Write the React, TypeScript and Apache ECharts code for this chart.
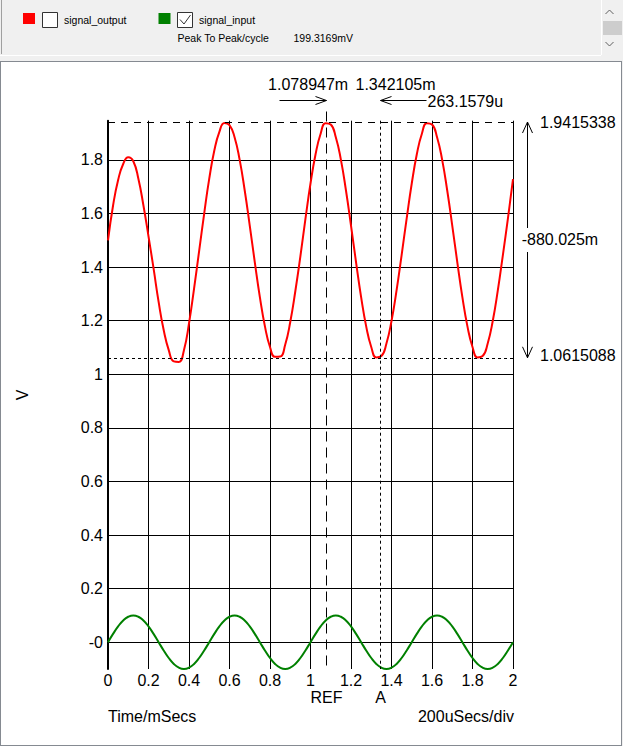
import React, { useEffect, useRef } from "react";
import * as echarts from "echarts";

// sample spacing of the two traces, in ms
const sampleStepMs = 0.025;

// signal_output (red), volts, one value every 0.025 ms from 0 to 2 ms
const outputVolts = [
  1.5, 1.63, 1.725, 1.785, 1.81, 1.795, 1.73, 1.63, 1.515, 1.395,
  1.27, 1.165, 1.09, 1.048, 1.046, 1.09, 1.19, 1.32, 1.46, 1.6,
  1.73, 1.835, 1.905, 1.938, 1.93, 1.885, 1.801, 1.687, 1.555, 1.418,
  1.288, 1.179, 1.102, 1.065, 1.066, 1.11, 1.195, 1.31, 1.44, 1.58,
  1.712, 1.821, 1.898, 1.937, 1.932, 1.885, 1.801, 1.687, 1.555, 1.418,
  1.288, 1.179, 1.102, 1.063, 1.068, 1.115, 1.199, 1.313, 1.445, 1.582,
  1.712, 1.821, 1.898, 1.937, 1.932, 1.885, 1.801, 1.687, 1.555, 1.418,
  1.288, 1.179, 1.102, 1.063, 1.068, 1.115, 1.199, 1.313, 1.445, 1.582,
  1.728,
];

// signal_input (green), volts
const inputVolts = [
  0, 0.031, 0.059, 0.081, 0.095, 0.1, 0.095, 0.081, 0.059, 0.031,
  0, -0.031, -0.059, -0.081, -0.095, -0.1, -0.095, -0.081, -0.059, -0.031,
  0, 0.031, 0.059, 0.081, 0.095, 0.1, 0.095, 0.081, 0.059, 0.031,
  0, -0.031, -0.059, -0.081, -0.095, -0.1, -0.095, -0.081, -0.059, -0.031,
  0, 0.031, 0.059, 0.081, 0.095, 0.1, 0.095, 0.081, 0.059, 0.031,
  0, -0.031, -0.059, -0.081, -0.095, -0.1, -0.095, -0.081, -0.059, -0.031,
  0, 0.031, 0.059, 0.081, 0.095, 0.1, 0.095, 0.081, 0.059, 0.031,
  0, -0.031, -0.059, -0.081, -0.095, -0.1, -0.095, -0.081, -0.059, -0.031,
  0,
];

const xTickValues = [0, 0.2, 0.4, 0.6, 0.8, 1, 1.2, 1.4, 1.6, 1.8, 2];
const xTickLabels = ["0", "0.2", "0.4", "0.6", "0.8", "1", "1.2", "1.4", "1.6", "1.8", "2"];
const yTickValues = [0, 0.2, 0.4, 0.6, 0.8, 1, 1.2, 1.4, 1.6, 1.8];
const yTickLabels = ["-0", "0.2", "0.4", "0.6", "0.8", "1", "1.2", "1.4", "1.6", "1.8"];

const xMin = 0;
const xMax = 2;
const yMin = -0.1;
const yMax = 1.9465;

const refCursorMs = 1.078947;
const aCursorMs = 1.342105;
const maxLevel = 1.9415338;
const minLevel = 1.0615088;

const refTimeLabel = "1.078947m";
const aTimeLabel = "1.342105m";
const deltaTimeLabel = "263.1579u";
const deltaVoltLabel = "-880.025m";
const maxLevelLabel = "1.9415338";
const minLevelLabel = "1.0615088";

const legendNames = ["signal_output", "signal_input"];
const measureName = "Peak To Peak/cycle";
const measureValue = "199.3169mV";

const FONT = '"Liberation Sans", Arial, sans-serif';

function findLabel(values: number[], labels: string[], v: number) {
  const i = values.findIndex((t) => Math.abs(t - v) < 1e-6);
  return i >= 0 ? labels[i] : "";
}

function txt(x: number, y: number, text: string, align = "left", size = 16, extra: any = {}) {
  return {
    type: "text",
    x,
    y,
    z: 50,
    silent: true,
    style: {
      text,
      fill: "#000",
      fontSize: size,
      fontFamily: FONT,
      align,
      textAlign: align,
      verticalAlign: "middle",
      textVerticalAlign: "middle",
      ...extra,
    },
  };
}

function seg(x1: number, y1: number, x2: number, y2: number, extra: any = {}) {
  return {
    type: "line",
    z: 40,
    silent: true,
    shape: { x1, y1, x2, y2 },
    style: { stroke: "#000", lineWidth: 1, ...extra },
  };
}

function poly(points: number[][], stroke = "#000", lineWidth = 1) {
  return {
    type: "polyline",
    z: 40,
    silent: true,
    shape: { points },
    style: { stroke, lineWidth, fill: "none" },
  };
}

export default function App() {
  const ref = useRef<HTMLDivElement>(null);

  useEffect(() => {
    if (!ref.current) return;
    const chart = echarts.init(ref.current, undefined, { renderer: "svg" });

    const outData = outputVolts.map((v, i) => [i * sampleStepMs, v]);
    const inData = inputVolts.map((v, i) => [i * sampleStepMs, v]);

    chart.setOption({
      animation: false,
      backgroundColor: "transparent",
      grid: { left: 108, right: 110, top: 120.7, bottom: 77 },
      xAxis: {
        type: "value",
        min: xMin,
        max: xMax,
        interval: 0.2,
        axisLine: { show: false, onZero: false },
        axisTick: { show: false },
        splitLine: { show: true, lineStyle: { color: "#000", width: 1 } },
        axisLabel: {
          margin: 3,
          color: "#000",
          fontSize: 16,
          fontFamily: FONT,
          formatter: (v: number) => findLabel(xTickValues, xTickLabels, v),
        },
      },
      yAxis: {
        type: "value",
        min: yMin,
        max: yMax,
        name: "V",
        nameLocation: "middle",
        nameGap: 78,
        nameRotate: 90,
        nameTextStyle: { color: "#000", fontSize: 16, fontFamily: FONT },
        axisLine: { show: true, onZero: false, lineStyle: { color: "#000", width: 2 } },
        axisTick: { show: false, customValues: yTickValues },
        splitLine: { show: true, lineStyle: { color: "#000", width: 1 } },
        axisLabel: {
          customValues: yTickValues,
          margin: 5,
          color: "#000",
          fontSize: 16,
          fontFamily: FONT,
          formatter: (v: number) => findLabel(yTickValues, yTickLabels, v),
        },
      },
      series: [
        {
          name: legendNames[1],
          type: "line",
          data: inData,
          showSymbol: false,
          smooth: true,
          z: 3,
          lineStyle: { color: "#008000", width: 2 },
          itemStyle: { color: "#008000" },
        },
        {
          name: legendNames[0],
          type: "line",
          data: outData,
          showSymbol: false,
          smooth: true,
          z: 4,
          lineStyle: { color: "#ff0000", width: 2 },
          itemStyle: { color: "#ff0000" },
          markLine: {
            silent: true,
            symbol: "none",
            label: { show: false },
            data: [
              { yAxis: maxLevel, lineStyle: { color: "#000", width: 1, type: [7, 6] } },
              { yAxis: minLevel, lineStyle: { color: "#000", width: 1, type: [3, 3] } },
            ],
          },
        },
      ],
    });

    const px = (x: number, y: number) =>
      chart.convertToPixel({ gridIndex: 0 } as any, [x, y]) as unknown as number[];

    const refX = Math.round(px(refCursorMs, 0)[0]) + 0.5;
    const aX = Math.round(px(aCursorMs, 0)[0]) + 0.5;
    const gridTop = px(0, yMax)[1];
    const gridBottom = px(0, yMin)[1];
    const gridLeft = px(xMin, 0)[0];
    const gridRight = px(xMax, 0)[0];
    const topY = px(0, maxLevel)[1];
    const botY = px(0, minLevel)[1];
    const arrowY = 100.5;
    const vArrowX = Math.round(gridRight + 14) + 0.5;

    const graphics: any[] = [
      // top panel
      seg(1.5, 0, 1.5, 54, { stroke: "#a0a0a0" }),
      seg(0, 55.5, 601, 55.5, { stroke: "#ffffff" }),
      seg(601.5, 0, 601.5, 55, { stroke: "#ffffff" }),
      {
        type: "rect",
        z: 40,
        shape: { x: 603, y: 21, width: 19, height: 14 },
        style: { fill: "#cdcdcd" },
      },
      poly([[605.5, 14], [609.5, 10], [613.5, 14]], "#606060", 1),
      poly([[605.5, 42], [609.5, 46], [613.5, 42]], "#606060", 1),
      {
        type: "rect",
        z: 40,
        shape: { x: 23, y: 13, width: 12, height: 11 },
        style: { fill: "#ff0000" },
      },
      {
        type: "rect",
        z: 40,
        shape: { x: 42.5, y: 12.5, width: 15, height: 15 },
        style: { fill: "#ffffff", stroke: "#333333", lineWidth: 1 },
      },
      txt(64, 19.5, legendNames[0], "left", 10.5),
      {
        type: "rect",
        z: 40,
        shape: { x: 158.5, y: 13, width: 12, height: 11 },
        style: { fill: "#008000" },
      },
      {
        type: "rect",
        z: 40,
        shape: { x: 177.5, y: 12.5, width: 15, height: 15 },
        style: { fill: "#ffffff", stroke: "#333333", lineWidth: 1 },
      },
      poly([[180, 19.5], [184, 24], [190.5, 15]], "#333333", 1),
      txt(199, 19.5, legendNames[1], "left", 10.5),
      txt(177.5, 37.7, measureName, "left", 10.5),
      txt(293.5, 37.7, measureValue, "left", 10.5),

      // cursors
      seg(refX, arrowY + 11, refX, gridBottom, { lineDash: [10, 6] }),
      seg(aX, gridTop, aX, gridBottom, { lineDash: [3, 3] }),
      seg(refX - 47, arrowY, refX, arrowY),
      poly([[refX - 11, arrowY - 4], [refX, arrowY], [refX - 11, arrowY + 4]]),
      seg(aX, arrowY, aX + 46, arrowY),
      poly([[aX + 11, arrowY - 4], [aX, arrowY], [aX + 11, arrowY + 4]]),
      txt(refX - 58.4, 84, refTimeLabel),
      txt(aX - 25, 84, aTimeLabel),
      txt(aX + 47, 101.7, deltaTimeLabel),
      txt(refX, 697, "REF", "center"),
      txt(aX, 697, "A", "center"),

      // level measurement
      seg(vArrowX, topY, vArrowX, botY),
      poly([[vArrowX - 5, topY + 11], [vArrowX, topY], [vArrowX + 5, topY + 11]]),
      poly([[vArrowX - 5, botY - 11], [vArrowX, botY], [vArrowX + 5, botY - 11]]),
      txt(gridRight + 8.7, (topY + botY) / 2, deltaVoltLabel, "left", 16, {
        backgroundColor: "#ffffff",
        padding: [4, 0],
      }),
      txt(gridRight + 27, topY, maxLevelLabel),
      txt(gridRight + 27, botY - 2, minLevelLabel),

      // footer
      txt(gridLeft, 716, "Time/mSecs"),
      txt(gridRight + 1, 716, "200uSecs/div", "right"),
    ];

    chart.setOption({ graphic: graphics });

    return () => chart.dispose();
  }, []);

  return (
    <div
      style={{
        position: "absolute",
        left: 0,
        top: 0,
        width: 623,
        height: 746,
        background: "#f0f0f0",
        overflow: "hidden",
      }}
    >
      <div
        style={{
          position: "absolute",
          left: 0,
          top: 61,
          width: 622,
          height: 685,
          background: "#ffffff",
          border: "1px solid #858a91",
          boxSizing: "border-box",
        }}
      />
      <div ref={ref} style={{ position: "absolute", left: 0, top: 0, width: 623, height: 746 }} />
    </div>
  );
}
